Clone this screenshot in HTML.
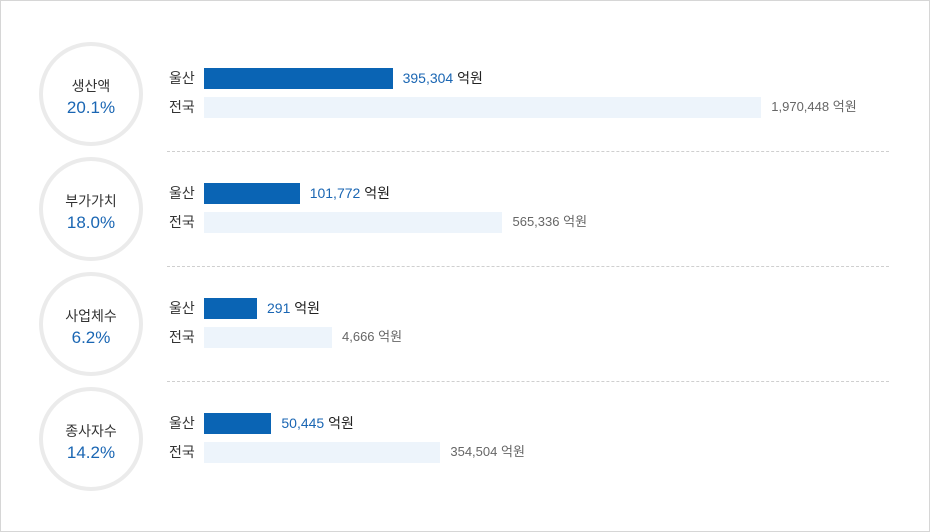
<!DOCTYPE html>
<html><head><meta charset="utf-8">
<style>
body{margin:0;background:#fff;font-family:"Liberation Sans","Noto Sans CJK KR",sans-serif;}
#wrap{position:relative;width:928px;height:530px;border:1px solid #d6d6d6;overflow:hidden;}
.circle{position:absolute;width:96px;height:96px;border:4px solid #ebebeb;border-radius:50%;text-align:center;box-sizing:content-box;}
.circle .t{position:absolute;top:30px;width:100%;font-size:14px;color:#333;}
.circle .p{position:absolute;top:52px;width:100%;font-size:17px;color:#1a66b3;}
.lbl{position:absolute;font-size:14px;color:#333;line-height:20px;}
.bar{position:absolute;height:21px;}
.val{position:absolute;font-size:14px;line-height:20px;}
.sep{position:absolute;left:166px;width:722px;border-top:1px dashed #cfcfcf;}
</style></head><body>
<div id="wrap"></div>
<script>
const titles=["생산액","부가가치","사업체수","종사자수"];
const shares=["20.1%","18.0%","6.2%","14.2%"];
const ulsanValues=[395304,101772,291,50445];
const nationalValues=[1970448,565336,4666,354504];
const unit="억원";
const wrap=document.getElementById('wrap');
function ulsanScale(v){return Math.max(53,0.3*Math.sqrt(v));}
function nationalScale(v){return Math.max(128,0.397*Math.sqrt(v));}
function fmt(v){return v.toLocaleString('en-US');}
titles.forEach((t,i)=>{
  const oy=i*115;
  const c=document.createElement('div');c.className='circle';
  c.style.left='38px';c.style.top=(oy+41)+'px';
  
  
  c.innerHTML='<div class="t">'+t+'</div><div class="p">'+shares[i]+'</div>';
  wrap.appendChild(c);
  [[ulsanValues[i],'울산','#0a64b4',oy+67,'#1a66b3','#222'],[nationalValues[i],'전국','#edf4fb',oy+96,'#666','#666']].forEach((r,j)=>{
    const l=document.createElement('div');l.className='lbl';l.textContent=r[1];
    l.style.left='168px';l.style.top=(r[3])+'px';
    
    
    wrap.appendChild(l);
    const w=j?nationalScale(r[0]):ulsanScale(r[0]);
    const b=document.createElement('div');b.className='bar';
    b.style.left='203px';b.style.top=r[3]+'px';b.style.width=w+'px';b.style.background=r[2];
    
    
    wrap.appendChild(b);
    const v=document.createElement('div');v.className='val';
    v.style.left=(203+w+10)+'px';v.style.top=r[3]+'px';
    v.style.fontSize=j?'13px':'14px';
    v.innerHTML='<span style="color:'+r[4]+'">'+fmt(r[0])+'</span> <span style="color:'+r[5]+'">'+unit+'</span>';
    
    
    wrap.appendChild(v);
  });
  if(i<3){const s=document.createElement('div');s.className='sep';s.style.top=(oy+150)+'px';
    
    
    wrap.appendChild(s);}
});
</script>
</body></html>
